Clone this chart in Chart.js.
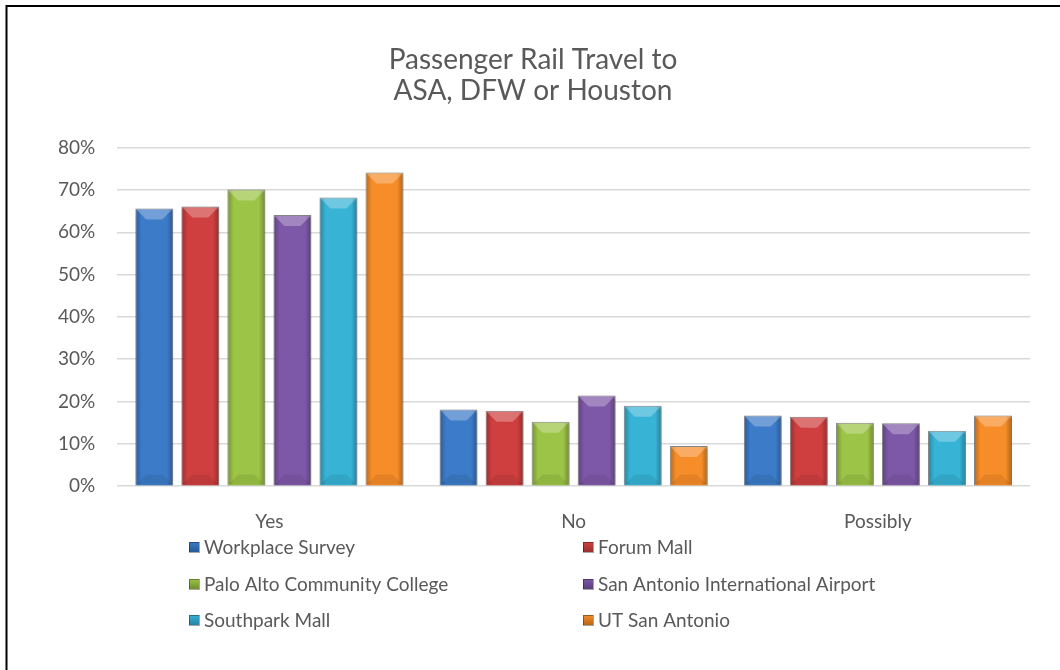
<!DOCTYPE html>
<html>
<head>
<meta charset="utf-8">
<script src="https://cdn.jsdelivr.net/npm/chart.js@4.4.1/dist/chart.umd.min.js"></script>
<style>
  html, body { margin: 0; padding: 0; background: #fff; }
  #wrap { width: 1060px; height: 670px; }
</style>
</head>
<body>
<div id="wrap"><canvas id="railChart" width="1060" height="670"></canvas></div>
<script>
// values, in percent
var categories = ["Yes", "No", "Possibly"];
var seriesNames = [
  "Workplace Survey",
  "Forum Mall",
  "Palo Alto Community College",
  "San Antonio International Airport",
  "Southpark Mall",
  "UT San Antonio"
];
var workplace = [65.6, 18.1, 16.7];
var forumMall = [66.1, 17.8, 16.4];
var paloAlto = [70.1, 15.2, 15.0];
var saAirport = [64.1, 21.4, 14.9];
var southpark = [68.2, 19.0, 13.1];
var utsa = [74.1, 9.5, 16.7];
var yTicks = [0, 10, 20, 30, 40, 50, 60, 70, 80];

var seriesValues = [workplace, forumMall, paloAlto, saAirport, southpark, utsa];
var colors = ["#3c7bc8", "#cf3f3f", "#9cc446", "#7e58a8", "#37b3d6", "#f78d28"];
var edges = ["#2a5a96", "#983030", "#6f8f31", "#5a3e7c", "#2682a0", "#b86518"];

var FONT = "Lato, 'Open Sans', sans-serif";
var TEXT = "#595959";

// bevel look: side shading, light top facet, dark bottom facet
var bevelPlugin = {
  id: "bevel",
  beforeDatasetsDraw: function (chart) {
    var ctx = chart.ctx;
    ctx.save();
    ctx.shadowColor = "rgba(0,0,0,0.35)";
    ctx.shadowBlur = 3;
    ctx.shadowOffsetX = 1;
    ctx.shadowOffsetY = 1;
  },
  afterDatasetsDraw: function (chart) {
    var ctx = chart.ctx;
    ctx.restore();
    ctx.save();
    chart.data.datasets.forEach(function (ds, i) {
      chart.getDatasetMeta(i).data.forEach(function (bar) {
        var l = bar.x - bar.width / 2 + 1, r = bar.x + bar.width / 2 - 1;
        var t = bar.y + 1, b = bar.base - 1;
        var h = b - t;
        var bev = Math.min(10, h / 2);
        // sides darker
        var g = ctx.createLinearGradient(l, 0, r, 0);
        g.addColorStop(0, "rgba(0,0,0,0.22)");
        g.addColorStop(0.15, "rgba(0,0,0,0.0)");
        g.addColorStop(0.85, "rgba(0,0,0,0.0)");
        g.addColorStop(1, "rgba(0,0,0,0.25)");
        ctx.fillStyle = g;
        ctx.fillRect(l, t, r - l, h);
        // top facet
        ctx.beginPath();
        ctx.moveTo(l, t);
        ctx.lineTo(r, t);
        ctx.lineTo(r - bev, t + bev);
        ctx.lineTo(l + bev, t + bev);
        ctx.closePath();
        ctx.fillStyle = "rgba(255,255,255,0.28)";
        ctx.fill();
        // bottom facet
        ctx.beginPath();
        ctx.moveTo(l, b);
        ctx.lineTo(r, b);
        ctx.lineTo(r - bev, b - bev);
        ctx.lineTo(l + bev, b - bev);
        ctx.closePath();
        ctx.fillStyle = "rgba(0,0,0,0.08)";
        ctx.fill();
      });
    });
    ctx.restore();
  }
};

// two-column legend under the axis, plus the frame line
var legendPlugin = {
  id: "gridLegend",
  afterDraw: function (chart) {
    var ctx = chart.ctx;
    var colX = [189, 583];
    var rowY = [547, 584, 620];
    ctx.save();
    ctx.font = "19px " + FONT;
    ctx.textBaseline = "middle";
    chart.data.datasets.forEach(function (ds, i) {
      var x = colX[i % 2], y = rowY[Math.floor(i / 2)];
      var g = ctx.createLinearGradient(0, y - 5, 0, y + 5);
      g.addColorStop(0, colors[i]);
      g.addColorStop(1, edges[i]);
      ctx.fillStyle = g;
      ctx.fillRect(x, y - 5, 10, 10);
      ctx.strokeStyle = "rgba(0,0,0,0.35)";
      ctx.lineWidth = 1;
      ctx.strokeRect(x + 0.5, y - 4.5, 10, 10);
      ctx.fillStyle = TEXT;
      ctx.fillText(ds.label, x + 15, y + 1);
    });
    ctx.strokeStyle = "#000";
    ctx.lineWidth = 2;
    ctx.strokeRect(6.5, 6, 1100, 700);
    ctx.restore();
  }
};

var datasets = seriesNames.map(function (name, i) {
  return {
    label: name,
    data: seriesValues[i],
    backgroundColor: colors[i],
    borderColor: "rgba(90,90,90,0.7)",
    borderWidth: 1,
    barPercentage: 0.824,
    categoryPercentage: 0.908
  };
});

new Chart(document.getElementById("railChart"), {
  type: "bar",
  data: { labels: categories, datasets: datasets },
  plugins: [bevelPlugin, legendPlugin],
  options: {
    responsive: false,
    animation: false,
    layout: { padding: { left: 36, right: 30, top: 0, bottom: 113 } },
    plugins: {
      legend: { display: false },
      tooltip: { enabled: false },
      title: {
        display: true,
        text: ["Passenger Rail Travel to", "ASA, DFW or Houston"],
        color: TEXT,
        font: { family: FONT, size: 28, weight: "normal", lineHeight: 1.1 },
        padding: { top: 45, bottom: 41 }
      }
    },
    scales: {
      x: {
        grid: { display: false, drawTicks: false },
        border: { display: false },
        ticks: { color: TEXT, font: { family: FONT, size: 19 }, padding: 24 }
      },
      y: {
        min: 0,
        max: 80,
        afterBuildTicks: function (axis) {
          axis.ticks = yTicks.map(function (v) { return { value: v }; });
        },
        grid: { color: "#d9d9d9", lineWidth: 1.5, drawTicks: false },
        border: { display: false },
        ticks: {
          color: TEXT,
          font: { family: FONT, size: 19 },
          padding: 22,
          callback: function (v) { return v + "%"; }
        }
      }
    }
  }
});
</script>
</body>
</html>
